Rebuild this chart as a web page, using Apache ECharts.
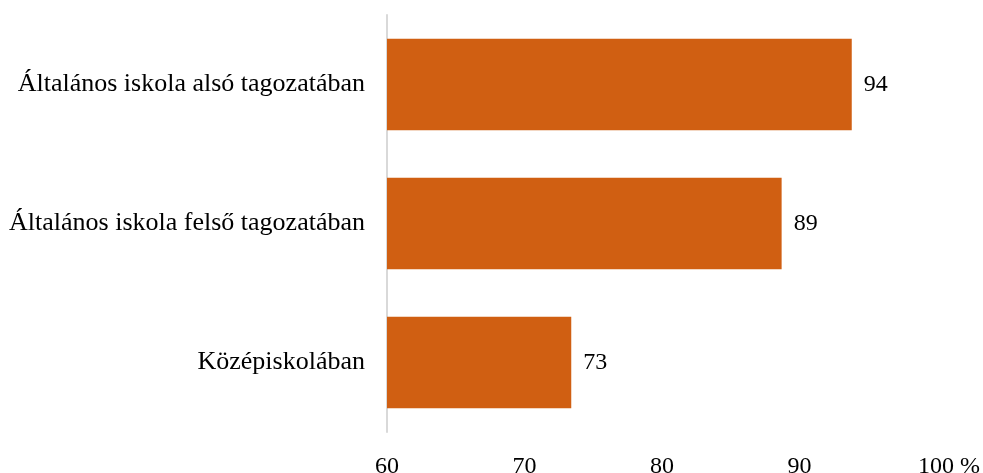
<!DOCTYPE html>
<html>
<head>
<meta charset="utf-8">
<script src="https://cdn.jsdelivr.net/npm/echarts@6/dist/echarts.min.js"></script>
<style>html,body{margin:0;padding:0;background:#fff}#c{width:983px;height:473px}</style>
</head>
<body>
<div id="c"></div>
<script>
const categories = ['Általános iskola alsó tagozatában', 'Általános iskola felső tagozatában', 'Középiskolában'];
const values = [93.8, 88.7, 73.4];
const tickLabels = {60: '60', 70: '70', 80: '80', 90: '90', 100: '100 %'};

const chart = echarts.init(document.getElementById('c'));
const font = '"Liberation Serif", "Times New Roman", serif';
chart.setOption({
  animation: false,
  grid: {left: 387, right: 46, top: 15, bottom: 41, containLabel: false, outerBoundsMode: 'none'},
  xAxis: {
    type: 'value', min: 60, max: 100, interval: 10,
    axisLine: {show: false}, axisTick: {show: false}, splitLine: {show: false},
    axisLabel: {
      margin: 23, color: '#000', fontFamily: font, fontSize: 24,
      formatter: v => v === 100 ? '{h|' + tickLabels[v] + '}' : tickLabels[v],
      rich: {h: {fontFamily: font, fontSize: 24, color: '#000', padding: [0, 0, 0, 24]}}
    }
  },
  yAxis: {
    type: 'category', data: categories, inverse: true,
    axisLine: {show: true, lineStyle: {color: '#d9d9d9', width: 2}},
    axisTick: {show: false},
    axisLabel: {margin: 22, color: '#000', fontFamily: font, fontSize: 26}
  },
  series: [{
    type: 'bar', data: values, barCategoryGap: '34%',
    itemStyle: {color: '#D05F12'},
    label: {show: true, position: 'right', distance: 12, color: '#000', fontFamily: font, fontSize: 24,
      formatter: p => Math.round(p.value)}
  }]
});
</script>
</body>
</html>
